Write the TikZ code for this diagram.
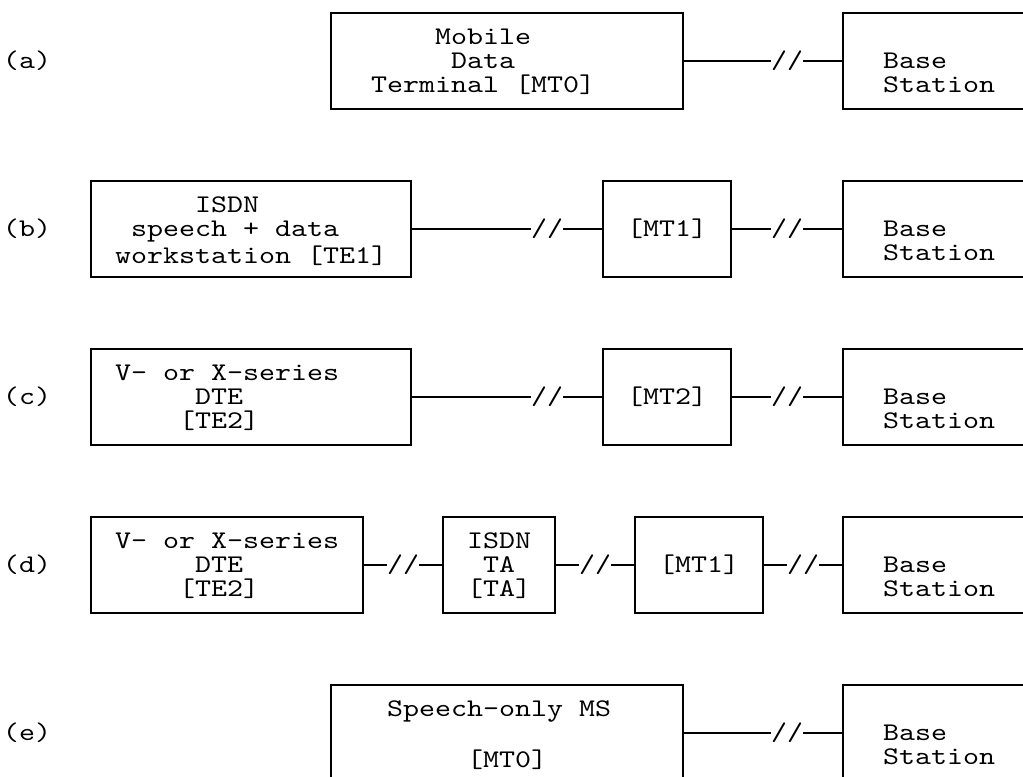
\documentclass[tikz,border=0pt]{standalone}
\usepackage{fontspec}
\setmonofont[FakeStretch=1.2]{lmmono10-regular.otf}
\usepackage{tikz}
% one character cell: 12pt wide, 18pt high
\newcommand{\cstrut}{\rule[-3.3pt]{0pt}{18pt}}
\newcommand{\pad}[1]{\cstrut\hspace*{#1\fontcharwd\font`M}}
\tikzset{mono/.style={font=\ttfamily\fontsize{19.05pt}{18pt}\selectfont},
 unit/.style={mono,draw,line width=1.5pt,inner sep=0pt,outer sep=0pt,minimum height=72pt,align=center},
 cols/.style={minimum width=#1*12pt},
 txt/.style={mono,inner sep=0pt,outer sep=0pt,align=left},
 cut/.style={mono,inner sep=0pt,outer sep=0pt},
 link/.style={line width=1.5pt}}

\begin{document}
\begin{tikzpicture}[x=12pt,y=-18pt]
\useasboundingbox (-0.6875,-0.541667) rectangle (63.25,31.791667);
% row labels
\node[txt,anchor=west] (la) at (-0.5,2) {\cstrut(a)};
\node[txt,anchor=west] (lb) at (-0.5,9) {\cstrut(b)};
\node[txt,anchor=west] (lc) at (-0.5,16) {\cstrut(c)};
\node[txt,anchor=west] (ld) at (-0.5,23) {\cstrut(d)};
\node[txt,anchor=west] (le) at (-0.5,30) {\cstrut(e)};
% (a)
\node[unit,cols=22] (mt0) at (31,2) {};
\node[txt,anchor=north west] (mt0t) at (22.5,0.5) {\pad{4}Mobile\\\pad{5}Data\\\pad{0}Terminal [MT0]};
\node[cut] (sa1) at (48.5,2) {\cstrut//};
\node[unit,cols=15] (bsa) at (59.5,2) {};
\node[txt,anchor=north west] (bsat) at (54.5,1.5) {\pad{0}Base\\\pad{0}Station};
% (b)
\node[unit,cols=20] (te1) at (15,9) {};
\node[txt,anchor=north west] (te1t) at (6.5,7.5) {\pad{5}ISDN\\\pad{1}speech + data\\\pad{0}workstation [TE1]};
\node[cut] (sb1) at (33.5,9) {\cstrut//};
\node[unit,cols=8] (mt1) at (41,9) {\cstrut[MT1]};
\node[cut] (sb2) at (48.5,9) {\cstrut//};
\node[unit,cols=15] (bsb) at (59.5,9) {};
\node[txt,anchor=north west] (bsbt) at (54.5,8.5) {\pad{0}Base\\\pad{0}Station};
% (c)
\node[unit,cols=20] (te2) at (15,16) {};
\node[txt,anchor=north west] (te2t) at (6.5,14.5) {\pad{0}V- or X-series\\\pad{5}DTE\\\pad{4}[TE2]};
\node[cut] (sc1) at (33.5,16) {\cstrut//};
\node[unit,cols=8] (mt2) at (41,16) {\cstrut[MT2]};
\node[cut] (sc2) at (48.5,16) {\cstrut//};
\node[unit,cols=15] (bsc) at (59.5,16) {};
\node[txt,anchor=north west] (bsct) at (54.5,15.5) {\pad{0}Base\\\pad{0}Station};
% (d)
\node[unit,cols=17] (dte) at (13.5,23) {};
\node[txt,anchor=north west] (dtet) at (6.5,21.5) {\pad{0}V- or X-series\\\pad{5}DTE\\\pad{4}[TE2]};
\node[cut] (sd1) at (24.5,23) {\cstrut//};
\node[unit,cols=7] (ta) at (30.5,23) {\cstrut ISDN\\\cstrut TA\\\cstrut[TA]};
\node[cut] (sd2) at (36.5,23) {\cstrut//};
\node[unit,cols=8] (mt1d) at (43,23) {\cstrut[MT1]};
\node[cut] (sd3) at (49.5,23) {\cstrut//};
\node[unit,cols=15] (bsd) at (59.5,23) {};
\node[txt,anchor=north west] (bsdt) at (54.5,22.5) {\pad{0}Base\\\pad{0}Station};
% (e)
\node[unit,cols=22] (ms) at (31,30) {};
\node[txt,anchor=north west] (mst) at (23.5,28.5) {\pad{0}Speech-only MS\\\pad{0}\\\pad{5}[MT0]};
\node[cut] (se1) at (48.5,30) {\cstrut//};
\node[unit,cols=15] (bse) at (59.5,30) {};
\node[txt,anchor=north west] (bset) at (54.5,29.5) {\pad{0}Base\\\pad{0}Station};
% links
\foreach \a/\b in {mt0/sa1,sa1/bsa,
  te1/sb1,sb1/mt1,mt1/sb2,sb2/bsb,
  te2/sc1,sc1/mt2,mt2/sc2,sc2/bsc,
  dte/sd1,sd1/ta,ta/sd2,sd2/mt1d,mt1d/sd3,sd3/bsd,
  ms/se1,se1/bse}
  \draw[link] (\a) -- (\b);
\end{tikzpicture}
\end{document}
